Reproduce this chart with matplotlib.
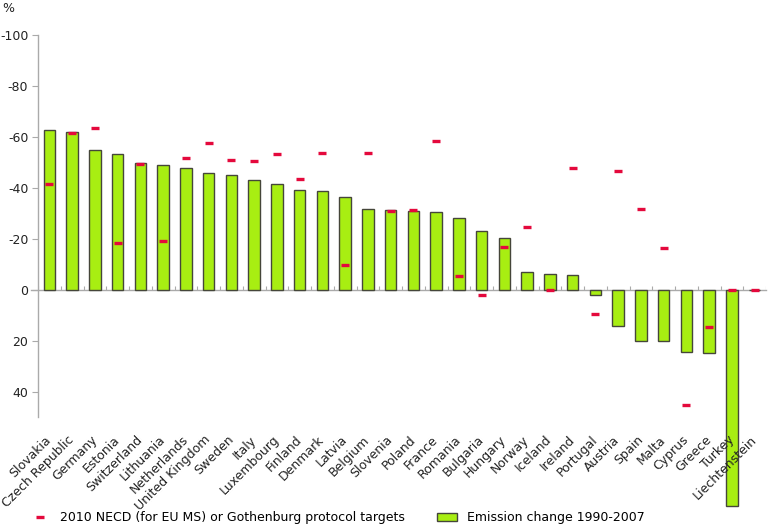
import matplotlib
matplotlib.use("Agg")
import matplotlib.pyplot as plt
import numpy as np
from matplotlib.lines import Line2D
from matplotlib.patches import Patch

countries = ["Slovakia", "Czech Republic", "Germany", "Estonia", "Switzerland", "Lithuania",
             "Netherlands", "United Kingdom", "Sweden", "Italy", "Luxembourg", "Finland",
             "Denmark", "Latvia", "Belgium", "Slovenia", "Poland", "France", "Romania",
             "Bulgaria", "Hungary", "Norway", "Iceland", "Ireland", "Portugal", "Austria",
             "Spain", "Malta", "Cyprus", "Greece", "Turkey", "Liechtenstein"]

emission_change = [-62.5, -61.8, -54.8, -53.2, -49.8, -49.1, -47.6, -45.7, -45.1, -42.9,
                   -41.6, -39.2, -38.9, -36.5, -31.5, -31.1, -30.8, -30.5, -28.2, -22.9,
                   -20.1, -6.9, -6.1, -5.6, 2.0, 14.4, 20.0, 20.1, 24.6, 24.7, 84.8, 0.0]

targets = [-41.4, -61.6, -63.3, -18.5, -49.3, -19.2, -51.6, -57.6, -50.8, -50.7,
           -53.1, -43.4, -53.6, -9.7, -53.8, -30.7, -31.4, -58.2, -5.4, 2.1,
           -16.9, -24.6, 0.0, -47.7, 9.4, -46.7, -31.5, -16.2, 45.2, 14.8, 0.0, 0.0]

yticks = [-100, -80, -60, -40, -20, 0, 20, 40]

fig = plt.figure(figsize=(7.68, 5.26), dpi=100)
ax = fig.add_axes([38/768, 1-417/526, 728/768, 382/526])

x = np.arange(len(countries))
ax.bar(x, emission_change, width=0.5, color="#a8ee12", edgecolor="#45463a",
       linewidth=1.0, clip_on=False, zorder=1)
ax.plot(x, targets, linestyle="none", marker="_", markersize=6, markeredgewidth=2.4,
        color="#e4093c", zorder=3, clip_on=False)

ax.set_xlim(-0.5, len(countries) - 0.5)
ax.set_ylim(50, -100)
ax.set_yticks(yticks)
ax.set_yticklabels([str(v) for v in yticks], fontsize=9, color="#222222")

ax.axhline(0, color="#aaaaaa", linewidth=1.0, zorder=0.5, xmin=-0.01, clip_on=False)
ax.vlines(np.arange(len(countries) + 1) - 0.5, 0, -1.6, color="#aaaaaa", linewidth=0.8, zorder=0.5)

ax.set_xticks(x)
ax.set_xticklabels(countries, rotation=45, ha="right", va="center", rotation_mode="anchor",
                   fontsize=9, color="#222222")
ax.tick_params(axis="x", length=0, pad=15)
ax.tick_params(axis="y", length=4, color="#aaaaaa", width=0.8, pad=3)

for s in ["top", "right", "bottom"]:
    ax.spines[s].set_visible(False)
ax.spines["left"].set_color("#aaaaaa")
ax.spines["left"].set_linewidth(1.0)

fig.text(2/768, 1-8/526, "%", fontsize=9, color="#222222", va="center", ha="left")

handles = [Line2D([], [], linestyle="none", marker="_", markersize=6, markeredgewidth=2.4, color="#e4093c"),
           Patch(facecolor="#a8ee12", edgecolor="#45463a", linewidth=1.0)]
labels = ["2010 NECD (for EU MS) or Gothenburg protocol targets", "Emission change 1990-2007"]
fig.legend(handles, labels, loc="center left", bbox_to_anchor=(30/768, 1-518/526), ncol=2,
           frameon=False, fontsize=9, handlelength=1.6, handleheight=0.6, handletextpad=0.8,
           columnspacing=2.6, borderaxespad=0, borderpad=0)

fig.savefig("out.png", dpi=100)
